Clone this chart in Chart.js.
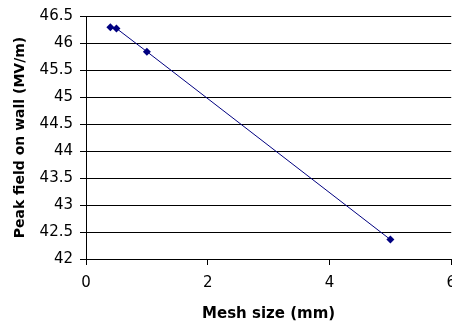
<!DOCTYPE html>
<html>
<head>
<meta charset="utf-8">
<script src="https://cdn.jsdelivr.net/npm/chart.js@4/dist/chart.umd.min.js"></script>
<style>
html,body{margin:0;padding:0;background:#fff;overflow:hidden;}
#wrap{width:465px;height:327px;}
</style>
</head>
<body>
<div id="wrap"><canvas id="c" width="465" height="327"></canvas></div>
<script>
const meshSize = [0.4, 0.5, 1.0, 5.0];
const peakField = [46.29, 46.27, 45.84, 42.36];
const xTitle = 'Mesh size (mm)';
const yTitle = 'Peak field on wall (MV/m)';

const pts = meshSize.map((x, i) => ({x: x, y: peakField[i]}));
const FONT = 'DejaVu Sans, sans-serif';

new Chart(document.getElementById('c'), {
  type: 'scatter',
  data: {
    datasets: [{
      data: pts,
      showLine: true,
      borderColor: '#000080',
      backgroundColor: '#000080',
      borderWidth: 1,
      pointStyle: 'rectRot',
      pointRadius: 4,
      pointHoverRadius: 4,
      pointBorderWidth: 0
    }]
  },
  options: {
    responsive: false,
    animation: false,
    devicePixelRatio: 1,
    layout: {padding: {left: 0, top: 16, right: 0, bottom: 0}},
    plugins: {legend: {display: false}, tooltip: {enabled: false}},
    scales: {
      x: {
        type: 'linear',
        min: 0, max: 6,
        afterFit: s => { s.height = 68; },
        ticks: {stepSize: 2, color: '#000', font: {family: FONT, size: 15}, padding: 9, maxRotation: 0,
                callback: v => String(v)},
        grid: {drawOnChartArea: false, drawTicks: true, tickLength: 6, color: '#000'},
        border: {display: true, color: '#000', width: 1},
        title: {display: true, text: xTitle, color: '#000', font: {family: FONT, size: 15, weight: 'bold'}, padding: {top: 10, bottom: 4}}
      },
      y: {
        type: 'linear',
        min: 42, max: 46.5,
        afterFit: s => { s.width = 86; },
        ticks: {stepSize: 0.5, color: '#000', font: {family: FONT, size: 15}, padding: 7,
                callback: v => String(v)},
        grid: {drawOnChartArea: true, drawTicks: true, tickLength: 6, color: '#000', lineWidth: 1},
        border: {display: true, color: '#000', width: 1},
        title: {display: true, text: yTitle, color: '#000', font: {family: FONT, size: 14, weight: 'bold'}, padding: {top: 12, bottom: 4}}
      }
    }
  }
});
</script>
</body>
</html>
